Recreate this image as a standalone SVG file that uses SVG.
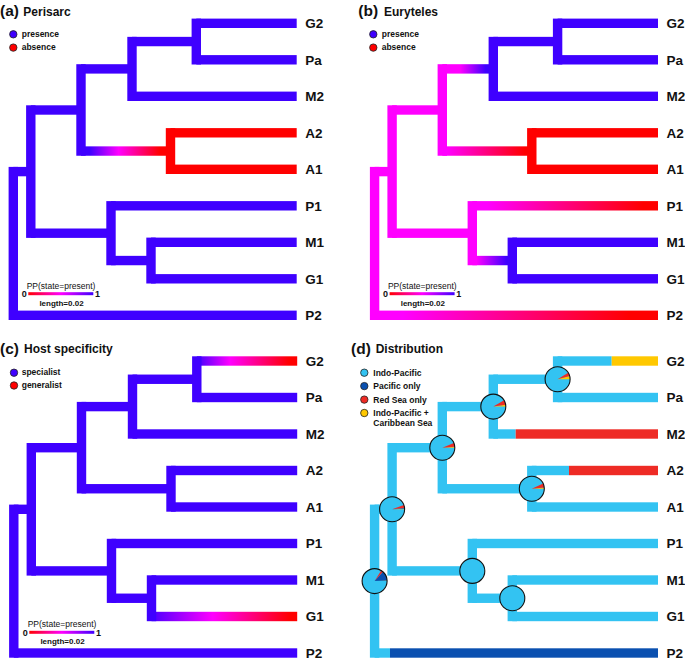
<svg xmlns="http://www.w3.org/2000/svg" width="685" height="664" viewBox="0 0 685 664">
<style>
text{font-family:"Liberation Sans",Arial,sans-serif;fill:#111}
.lbl{font-weight:bold;font-size:13.5px}
.tb{font-weight:bold;font-size:15.5px}
.tt{font-weight:bold;font-size:12px}
.leg{font-weight:bold;font-size:8.5px}
.pp{font-size:8.5px}
.sc{font-weight:bold;font-size:8px;text-anchor:middle}
.sn{font-weight:bold;font-size:9px;text-anchor:middle}
.bl{fill:#3f00ff}.rd{fill:#ff0000}.mg{fill:#ff00ff}
.lb{fill:#33c3f2}.db{fill:#0a50b0}.rr{fill:#ee2b25}.yy{fill:#ffc800}
.dot{stroke:#222;stroke-width:0.8}
.ring{fill:none;stroke:#111;stroke-width:1.1}
</style>
<defs>
<linearGradient id="gA"><stop offset="0.1" stop-color="#3f00ff"/><stop offset="0.42" stop-color="#ff00ff"/><stop offset="0.88" stop-color="#ff0000"/></linearGradient>
<linearGradient id="gBP2"><stop offset="0.1" stop-color="#ff00ff"/><stop offset="0.9" stop-color="#ff0000"/></linearGradient>
<linearGradient id="gBN3"><stop offset="0.35" stop-color="#ff00ff"/><stop offset="0.85" stop-color="#3f00ff"/></linearGradient>
<linearGradient id="gBN5"><stop offset="0.05" stop-color="#ff00ff"/><stop offset="0.92" stop-color="#ff0000"/></linearGradient>
<linearGradient id="gBP1"><stop offset="0.08" stop-color="#ff00ff"/><stop offset="0.92" stop-color="#ff0000"/></linearGradient>
<linearGradient id="gBN7"><stop offset="0.1" stop-color="#ff00ff"/><stop offset="0.85" stop-color="#3f00ff"/></linearGradient>
<linearGradient id="gCG2"><stop offset="0" stop-color="#3f00ff"/><stop offset="0.33" stop-color="#ff00ff"/><stop offset="0.92" stop-color="#ff0000"/></linearGradient>
<linearGradient id="gCG1"><stop offset="0" stop-color="#4a00ff"/><stop offset="0.42" stop-color="#ff00ff"/><stop offset="0.95" stop-color="#ff0000"/></linearGradient>
<linearGradient id="gS"><stop offset="0" stop-color="#ff0000"/><stop offset="0.5" stop-color="#ff00ff"/><stop offset="1" stop-color="#3f00ff"/></linearGradient>
</defs>

<!-- ===== Panel (a) ===== -->
<g id="panel-a">
<text x="0" y="16.3"><tspan class="tb">(a)</tspan><tspan class="tt" x="23.3" y="16">Perisarc</tspan></text>
<g id="legend-a">
<circle class="dot" cx="13.3" cy="34.3" r="3.7" fill="#3f00ff"/><text class="leg" x="21.7" y="36.6">presence</text>
<circle class="dot" cx="13.3" cy="47.6" r="3.7" fill="#ff0000"/><text class="leg" x="21.7" y="50">absence</text>
</g>
<g id="connectors-a">
<rect class="bl" x="13.3" y="166.9" width="17.5" height="9.4"/>
<rect class="bl" x="13.3" y="310.6" width="283.4" height="9.4"/>
<rect class="bl" x="30.8" y="105.3" width="50.2" height="9.4"/>
<rect class="bl" x="30.8" y="228.5" width="80.2" height="9.4"/>
<rect class="bl" x="81" y="64.2" width="51" height="9.4"/>
<rect fill="url(#gA)" x="81" y="146.35" width="89.5" height="9.4"/>
<rect class="bl" x="132" y="36.85" width="64.3" height="9.4"/>
<rect class="bl" x="132" y="91.6" width="164.7" height="9.4"/>
<rect class="bl" x="196.3" y="18.6" width="100.4" height="9.4"/>
<rect class="bl" x="196.3" y="55.1" width="100.4" height="9.4"/>
<rect class="rd" x="170.5" y="128.1" width="126.2" height="9.4"/>
<rect class="rd" x="170.5" y="164.6" width="126.2" height="9.4"/>
<rect class="bl" x="111" y="201.1" width="185.7" height="9.4"/>
<rect class="bl" x="111" y="255.85" width="40" height="9.4"/>
<rect class="bl" x="151" y="237.6" width="145.7" height="9.4"/>
<rect class="bl" x="151" y="274.1" width="145.7" height="9.4"/>
<rect class="bl" x="8.6" y="166.9" width="9.4" height="153.1"/>
<rect class="bl" x="26.1" y="105.3" width="9.4" height="132.6"/>
<rect class="bl" x="76.3" y="64.2" width="9.4" height="91.55"/>
<rect class="bl" x="127.3" y="36.85" width="9.4" height="64.15"/>
<rect class="bl" x="191.6" y="18.6" width="9.4" height="45.9"/>
<rect class="rd" x="165.8" y="128.1" width="9.4" height="45.9"/>
<rect class="bl" x="106.3" y="201.1" width="9.4" height="64.15"/>
<rect class="bl" x="146.3" y="237.6" width="9.4" height="45.9"/>
</g>
<g id="tips-a">
<g id="a-G2"><text class="lbl" x="305.3" y="28.1">G2</text></g>
<g id="a-Pa"><text class="lbl" x="305.3" y="64.6">Pa</text></g>
<g id="a-M2"><text class="lbl" x="305.3" y="101.1">M2</text></g>
<g id="a-A2"><text class="lbl" x="305.3" y="137.6">A2</text></g>
<g id="a-A1"><text class="lbl" x="305.3" y="174.1">A1</text></g>
<g id="a-P1"><text class="lbl" x="305.3" y="210.6">P1</text></g>
<g id="a-M1"><text class="lbl" x="305.3" y="247.1">M1</text></g>
<g id="a-G1"><text class="lbl" x="305.3" y="283.6">G1</text></g>
<g id="a-P2"><text class="lbl" x="305.3" y="320.1">P2</text></g>
</g>
<g id="scale-a">
<text class="pp" x="61" y="288.7" text-anchor="middle">PP(state=present)</text>
<rect x="28.3" y="292.2" width="65" height="3" fill="url(#gS)"/>
<text class="sn" x="24.2" y="297.1">0</text>
<text class="sn" x="97.5" y="297.1">1</text>
<text class="sc" x="61.5" y="305.6">length=0.02</text>
</g>
</g>

<!-- ===== Panel (b) ===== -->
<g id="panel-b">
<text x="358.3" y="16.3"><tspan class="tb">(b)</tspan><tspan class="tt" x="384" y="16">Euryteles</tspan></text>
<g id="legend-b">
<circle class="dot" cx="373.3" cy="34.3" r="3.7" fill="#3f00ff"/><text class="leg" x="381.7" y="36.6">presence</text>
<circle class="dot" cx="373.3" cy="47.6" r="3.7" fill="#ff0000"/><text class="leg" x="381.7" y="50">absence</text>
</g>
<g transform="translate(361.3,0)">
<g id="connectors-b">
<rect class="mg" x="13.3" y="166.9" width="17.5" height="9.4"/>
<rect fill="url(#gBP2)" x="13.3" y="310.6" width="283.4" height="9.4"/>
<rect class="mg" x="30.8" y="105.3" width="50.2" height="9.4"/>
<rect class="mg" x="30.8" y="228.5" width="80.2" height="9.4"/>
<rect fill="url(#gBN3)" x="81" y="64.2" width="51" height="9.4"/>
<rect fill="url(#gBN5)" x="81" y="146.35" width="89.5" height="9.4"/>
<rect class="bl" x="132" y="36.85" width="64.3" height="9.4"/>
<rect class="bl" x="132" y="91.6" width="164.7" height="9.4"/>
<rect class="bl" x="196.3" y="18.6" width="100.4" height="9.4"/>
<rect class="bl" x="196.3" y="55.1" width="100.4" height="9.4"/>
<rect class="rd" x="170.5" y="128.1" width="126.2" height="9.4"/>
<rect class="rd" x="170.5" y="164.6" width="126.2" height="9.4"/>
<rect fill="url(#gBP1)" x="111" y="201.1" width="185.7" height="9.4"/>
<rect fill="url(#gBN7)" x="111" y="255.85" width="40" height="9.4"/>
<rect class="bl" x="151" y="237.6" width="145.7" height="9.4"/>
<rect class="bl" x="151" y="274.1" width="145.7" height="9.4"/>
<rect class="mg" x="8.6" y="166.9" width="9.4" height="153.1"/>
<rect class="mg" x="26.1" y="105.3" width="9.4" height="132.6"/>
<rect class="mg" x="76.3" y="64.2" width="9.4" height="91.55"/>
<rect class="bl" x="127.3" y="36.85" width="9.4" height="64.15"/>
<rect class="bl" x="191.6" y="18.6" width="9.4" height="45.9"/>
<rect class="rd" x="165.8" y="128.1" width="9.4" height="45.9"/>
<rect class="mg" x="106.3" y="201.1" width="9.4" height="64.15"/>
<rect class="bl" x="146.3" y="237.6" width="9.4" height="45.9"/>
</g>
<g id="tips-b">
<g id="b-G2"><text class="lbl" x="305.3" y="28.1">G2</text></g>
<g id="b-Pa"><text class="lbl" x="305.3" y="64.6">Pa</text></g>
<g id="b-M2"><text class="lbl" x="305.3" y="101.1">M2</text></g>
<g id="b-A2"><text class="lbl" x="305.3" y="137.6">A2</text></g>
<g id="b-A1"><text class="lbl" x="305.3" y="174.1">A1</text></g>
<g id="b-P1"><text class="lbl" x="305.3" y="210.6">P1</text></g>
<g id="b-M1"><text class="lbl" x="305.3" y="247.1">M1</text></g>
<g id="b-G1"><text class="lbl" x="305.3" y="283.6">G1</text></g>
<g id="b-P2"><text class="lbl" x="305.3" y="320.1">P2</text></g>
</g>
<g id="scale-b">
<text class="pp" x="61" y="288.7" text-anchor="middle">PP(state=present)</text>
<rect x="28.3" y="292.2" width="65" height="3" fill="url(#gS)"/>
<text class="sn" x="24.2" y="297.1">0</text>
<text class="sn" x="97.5" y="297.1">1</text>
<text class="sc" x="61.5" y="305.6">length=0.02</text>
</g>
</g>
</g>

<!-- ===== Panel (c) ===== -->
<g id="panel-c">
<text x="0" y="353.6"><tspan class="tb">(c)</tspan><tspan class="tt" x="24" y="353.4">Host specificity</tspan></text>
<g id="legend-c">
<circle class="dot" cx="14" cy="372.7" r="3.7" fill="#3f00ff"/><text class="leg" x="21.7" y="375">specialist</text>
<circle class="dot" cx="14" cy="385.5" r="3.7" fill="#ff0000"/><text class="leg" x="21.7" y="387.8">generalist</text>
</g>
<g transform="translate(0.5,337.7)">
<g id="connectors-c">
<rect class="bl" x="13.3" y="166.9" width="17.5" height="9.4"/>
<rect class="bl" x="13.3" y="310.6" width="283.4" height="9.4"/>
<rect class="bl" x="30.8" y="105.3" width="50.2" height="9.4"/>
<rect class="bl" x="30.8" y="228.5" width="80.2" height="9.4"/>
<rect class="bl" x="81" y="64.2" width="51" height="9.4"/>
<rect class="bl" x="81" y="146.35" width="89.5" height="9.4"/>
<rect class="bl" x="132" y="36.85" width="64.3" height="9.4"/>
<rect class="bl" x="132" y="91.6" width="164.7" height="9.4"/>
<rect fill="url(#gCG2)" x="196.3" y="18.6" width="100.4" height="9.4"/>
<rect class="bl" x="196.3" y="55.1" width="100.4" height="9.4"/>
<rect class="bl" x="170.5" y="128.1" width="126.2" height="9.4"/>
<rect class="bl" x="170.5" y="164.6" width="126.2" height="9.4"/>
<rect class="bl" x="111" y="201.1" width="185.7" height="9.4"/>
<rect class="bl" x="111" y="255.85" width="40" height="9.4"/>
<rect class="bl" x="151" y="237.6" width="145.7" height="9.4"/>
<rect fill="url(#gCG1)" x="151" y="274.1" width="145.7" height="9.4"/>
<rect class="bl" x="8.6" y="166.9" width="9.4" height="153.1"/>
<rect class="bl" x="26.1" y="105.3" width="9.4" height="132.6"/>
<rect class="bl" x="76.3" y="64.2" width="9.4" height="91.55"/>
<rect class="bl" x="127.3" y="36.85" width="9.4" height="64.15"/>
<rect class="bl" x="191.6" y="18.6" width="9.4" height="45.9"/>
<rect class="bl" x="165.8" y="128.1" width="9.4" height="45.9"/>
<rect class="bl" x="106.3" y="201.1" width="9.4" height="64.15"/>
<rect class="bl" x="146.3" y="237.6" width="9.4" height="45.9"/>
</g>
<g id="tips-c">
<g id="c-G2"><text class="lbl" x="305.3" y="28.1">G2</text></g>
<g id="c-Pa"><text class="lbl" x="305.3" y="64.6">Pa</text></g>
<g id="c-M2"><text class="lbl" x="305.3" y="101.1">M2</text></g>
<g id="c-A2"><text class="lbl" x="305.3" y="137.6">A2</text></g>
<g id="c-A1"><text class="lbl" x="305.3" y="174.1">A1</text></g>
<g id="c-P1"><text class="lbl" x="305.3" y="210.6">P1</text></g>
<g id="c-M1"><text class="lbl" x="305.3" y="247.1">M1</text></g>
<g id="c-G1"><text class="lbl" x="305.3" y="283.6">G1</text></g>
<g id="c-P2"><text class="lbl" x="305.3" y="320.1">P2</text></g>
</g>
<g id="scale-c" transform="translate(0.5,0.9)">
<text class="pp" x="61" y="288.7" text-anchor="middle">PP(state=present)</text>
<rect x="28.3" y="292.2" width="65" height="3" fill="url(#gS)"/>
<text class="sn" x="24.2" y="297.1">0</text>
<text class="sn" x="97.5" y="297.1">1</text>
<text class="sc" x="61.5" y="305.6">length=0.02</text>
</g>
</g>
</g>

<!-- ===== Panel (d) ===== -->
<g id="panel-d">
<text x="351" y="353.6"><tspan class="tb">(d)</tspan><tspan class="tt" x="375.7" y="353.4">Distribution</tspan></text>
<g id="legend-d">
<circle class="dot" cx="364.3" cy="372.7" r="3.7" fill="#33c3f2"/><text class="leg" x="373.3" y="375.7">Indo-Pacific</text>
<circle class="dot" cx="364.3" cy="386.1" r="3.7" fill="#0a50b0"/><text class="leg" x="373.3" y="389.1">Pacific only</text>
<circle class="dot" cx="364.3" cy="399.6" r="3.7" fill="#ee2b25"/><text class="leg" x="373.3" y="402.6">Red Sea only</text>
<circle class="dot" cx="364.3" cy="413" r="3.7" fill="#ffc800"/><text class="leg" x="373.3" y="416">Indo-Pacific +</text>
<text class="leg" x="373.3" y="425.7">Caribbean Sea</text>
</g>
<g transform="translate(361.3,337.7)">
<g id="connectors-d">
<rect class="lb" x="13.3" y="166.9" width="17.5" height="9.4"/>
<rect class="lb" x="13.3" y="310.6" width="15.4" height="9.4"/>
<rect class="db" x="28.7" y="310.6" width="268" height="9.4"/>
<rect class="lb" x="30.8" y="105.3" width="50.2" height="9.4"/>
<rect class="lb" x="30.8" y="228.5" width="80.2" height="9.4"/>
<rect class="lb" x="81" y="64.2" width="51" height="9.4"/>
<rect class="lb" x="81" y="146.35" width="89.5" height="9.4"/>
<rect class="lb" x="132" y="36.85" width="64.3" height="9.4"/>
<rect class="lb" x="132" y="91.6" width="22.4" height="9.4"/>
<rect class="rr" x="154.4" y="91.6" width="142.3" height="9.4"/>
<rect class="lb" x="196.3" y="18.6" width="54.1" height="9.4"/>
<rect class="yy" x="250.4" y="18.6" width="46.3" height="9.4"/>
<rect class="lb" x="196.3" y="55.1" width="100.4" height="9.4"/>
<rect class="lb" x="170.5" y="128.1" width="37.2" height="9.4"/>
<rect class="rr" x="207.7" y="128.1" width="89" height="9.4"/>
<rect class="lb" x="170.5" y="164.6" width="126.2" height="9.4"/>
<rect class="lb" x="111" y="201.1" width="185.7" height="9.4"/>
<rect class="lb" x="111" y="255.85" width="40" height="9.4"/>
<rect class="lb" x="151" y="237.6" width="145.7" height="9.4"/>
<rect class="lb" x="151" y="274.1" width="145.7" height="9.4"/>
<rect class="lb" x="8.6" y="166.9" width="9.4" height="153.1"/>
<rect class="lb" x="26.1" y="105.3" width="9.4" height="132.6"/>
<rect class="lb" x="76.3" y="64.2" width="9.4" height="91.55"/>
<rect class="lb" x="127.3" y="36.85" width="9.4" height="64.15"/>
<rect class="lb" x="191.6" y="18.6" width="9.4" height="45.9"/>
<rect class="lb" x="165.8" y="128.1" width="9.4" height="45.9"/>
<rect class="lb" x="106.3" y="201.1" width="9.4" height="64.15"/>
<rect class="lb" x="146.3" y="237.6" width="9.4" height="45.9"/>
</g>
<g id="pies-d">
<g id="d-root" transform="translate(13.3,243.4)">
<circle class="lb" r="12.5"/>
<path class="yy" d="M0,0L12.5,0A12.5,12.5 0 0 0 12.483,-0.654Z"/>
<path class="db" d="M0,0L12.483,-0.654A12.5,12.5 0 0 0 8.364,-9.289Z"/>
<path class="rr" d="M0,0L8.364,-9.289A12.5,12.5 0 0 0 6.624,-10.601Z"/>
<circle class="ring" r="12.5"/>
</g>
<g id="d-n1" transform="translate(30.8,171.6)">
<circle class="lb" r="12.5"/>
<path class="yy" d="M0,0L12.5,0A12.5,12.5 0 0 0 12.483,-0.654Z"/>
<path class="db" d="M0,0L12.483,-0.654A12.5,12.5 0 0 0 12.432,-1.307Z"/>
<path class="rr" d="M0,0L12.432,-1.307A12.5,12.5 0 0 0 11.746,-4.275Z"/>
<circle class="ring" r="12.5"/>
</g>
<g id="d-n2" transform="translate(81,110)">
<circle class="lb" r="12.5"/>
<path class="yy" d="M0,0L12.5,0A12.5,12.5 0 0 0 12.470,-0.872Z"/>
<path class="rr" d="M0,0L12.470,-0.872A12.5,12.5 0 0 0 11.590,-4.683Z"/>
<circle class="ring" r="12.5"/>
</g>
<g id="d-n3" transform="translate(132,68.9)">
<circle class="lb" r="12.5"/>
<path class="yy" d="M0,0L12.5,0A12.5,12.5 0 0 0 12.378,-1.740Z"/>
<path class="rr" d="M0,0L12.378,-1.740A12.5,12.5 0 0 0 10.825,-6.25Z"/>
<circle class="ring" r="12.5"/>
</g>
<g id="d-n4" transform="translate(196.3,41.55)">
<circle class="lb" r="12.5"/>
<path class="yy" d="M0,0L12.5,0A12.5,12.5 0 0 0 12.074,-3.235Z"/>
<path class="rr" d="M0,0L12.074,-3.235A12.5,12.5 0 0 0 10.601,-6.624Z"/>
<circle class="ring" r="12.5"/>
</g>
<g id="d-n5" transform="translate(170.5,151.05)">
<circle class="lb" r="12.5"/>
<path class="yy" d="M0,0L12.5,0A12.5,12.5 0 0 0 12.432,-1.307Z"/>
<path class="rr" d="M0,0L12.432,-1.307A12.5,12.5 0 0 0 11.329,-5.283Z"/>
<circle class="ring" r="12.5"/>
</g>
<g id="d-n6" transform="translate(111,233.2)">
<circle class="lb" r="12.5"/><circle class="ring" r="12.5"/>
</g>
<g id="d-n7" transform="translate(151,260.55)">
<circle class="lb" r="12.5"/><circle class="ring" r="12.5"/>
</g>
</g>
<g id="tips-d">
<g id="d-G2"><text class="lbl" x="305.3" y="28.1">G2</text></g>
<g id="d-Pa"><text class="lbl" x="305.3" y="64.6">Pa</text></g>
<g id="d-M2"><text class="lbl" x="305.3" y="101.1">M2</text></g>
<g id="d-A2"><text class="lbl" x="305.3" y="137.6">A2</text></g>
<g id="d-A1"><text class="lbl" x="305.3" y="174.1">A1</text></g>
<g id="d-P1"><text class="lbl" x="305.3" y="210.6">P1</text></g>
<g id="d-M1"><text class="lbl" x="305.3" y="247.1">M1</text></g>
<g id="d-G1"><text class="lbl" x="305.3" y="283.6">G1</text></g>
<g id="d-P2"><text class="lbl" x="305.3" y="320.1">P2</text></g>
</g>
</g>
</g>
</svg>
